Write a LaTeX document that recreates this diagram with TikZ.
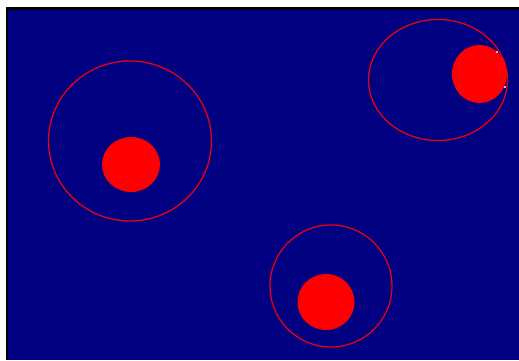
\documentclass[tikz,border=0pt]{standalone}
\definecolor{navybg}{RGB}{0,0,128}
\definecolor{ringred}{RGB}{230,0,20}
\tikzset{
  ring/.style={draw=ringred, line width=1.3pt},
  ball/.style={fill=red, draw=none},
  spark/.style={fill=white, draw=none}
}
\begin{document}
\begin{tikzpicture}[x=1pt,y=-1pt]
\useasboundingbox (0,0) rectangle (519,360);
\fill[white] (0,0) rectangle (519,360);
\fill[black] (6,7) rectangle (519,360);
\fill[navybg] (8,9.5) rectangle (519,360);
% left
\draw[ring] (130,141) ellipse [x radius=81.5, y radius=80];
\fill[ball] (131,164.5) ellipse [x radius=29, y radius=27.5];
% bottom
\draw[ring] (331,286) ellipse [x radius=61, y radius=61];
\fill[ball] (326,302) ellipse [x radius=28.5, y radius=28];
% top right
\draw[ring] (438,80) ellipse [x radius=69.5, y radius=60.5];
\fill[ball] (479.5,74) ellipse [x radius=27.5, y radius=29];
\fill[spark] (497,52) circle (1.2);
\fill[spark] (505,87) circle (1.2);
\end{tikzpicture}
\end{document}
